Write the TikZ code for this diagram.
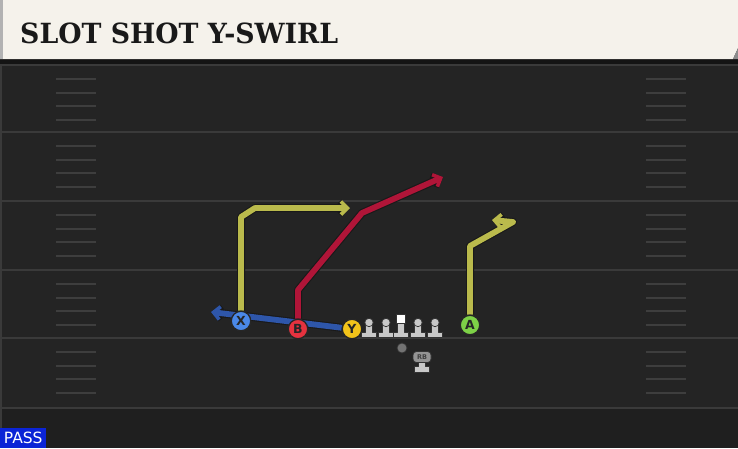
\documentclass[tikz,border=0pt]{standalone}
\usepackage{fontspec}
\usepackage{graphicx}
\setmainfont{DejaVu Sans}
\newfontfamily\titlefont{DejaVu Serif}
\usetikzlibrary{arrows.meta}
\definecolor{turf}{HTML}{242424}
\definecolor{turfdark}{HTML}{1F1F1F}
\definecolor{yardgray}{HTML}{3A3A3A}
\definecolor{hashgray}{HTML}{3E3E3E}
\definecolor{cream}{HTML}{F5F2EB}
\definecolor{routeyellow}{HTML}{BABA4C}
\definecolor{routered}{HTML}{B01538}
\definecolor{routeblue}{HTML}{2E56AA}
\definecolor{xblue}{HTML}{4A88E8}
\definecolor{bred}{HTML}{E5323F}
\definecolor{yyellow}{HTML}{F2C31A}
\definecolor{agreen}{HTML}{7DD147}
\definecolor{olgray}{HTML}{C8C8C8}
\definecolor{passblue}{HTML}{0B24D6}
\pgfdeclarelayer{field}
\pgfdeclarelayer{routes}
\pgfsetlayers{field,routes,main}

\begin{document}
\begin{tikzpicture}[x=1pt,y=-1pt]
		\tikzset{
			player/.style={circle, draw=black!85, line width=1.3pt, minimum size=19.5pt, inner sep=0pt, text=black!85, font=\bfseries\fontsize{12.5}{12.5}\selectfont},
			rb/.style={rounded corners=3.5pt, fill=black!42, draw=black!80, line width=0.7pt, minimum width=18pt, minimum height=11pt, inner sep=0pt, text=black!75, font=\bfseries\fontsize{6.5}{6.5}\selectfont},
			outline/.style={draw=black!90, line width=8pt, line join=round},
			route/.style={line width=5.8pt, line join=round},
			tip/.style={-{Straight Barb[length=6.5pt,width=13pt,line width=#1]}},
			yardline/.style={draw=yardgray, line width=2pt},
			hash/.style={draw=hashgray, line width=1.5pt},
			stand/.pic={\draw[fill=olgray, draw=black!80, line width=0.7pt, line join=round] (-3.5,0) -- (-3.5,9.5) -- (-7.5,9.5) -- (-7.5,15) -- (7.5,15) -- (7.5,9.5) -- (3.5,9.5) -- (3.5,0) -- cycle;},
			lineman/.pic={\pic {stand}; \draw[fill=olgray, draw=black!80, line width=0.7pt] (0,0) circle (4.2);},
			center/.pic={\pic {stand}; \draw[fill=white, draw=black!80, line width=0.7pt] (-4.8,-8.5) rectangle (4.8,1);},
		}
		\useasboundingbox (0,0) rectangle (738,448);
		\def\Route#1#2{
			\begin{pgfonlayer}{routes}
				\draw[outline,tip=5.6pt] #2;
				\draw[route,draw=#1,tip=3.6pt] #2;
			\end{pgfonlayer}}
		
		% Draw the turf, yard lines and hash marks first, on the bottom layer.
		\begin{pgfonlayer}{field}
			\fill[turf] (0,0) rectangle (738,448);
			\fill[turfdark] (0,408) rectangle (738,448);
			\foreach \yl in {65,132,201,270,338,408}
				\draw[yardline] (0,\yl) -- (738,\yl);
			\foreach \yl in {65,132,201,270,338}
				\foreach \dy in {14,28,41,55} {
					\draw[hash] (56,\yl+\dy) -- (96,\yl+\dy);
					\draw[hash] (646,\yl+\dy) -- (686,\yl+\dy);
				}
			\draw[yardgray, line width=1.5pt] (1,59) -- (1,448);
		\end{pgfonlayer}
		
		% Title bar.
		\fill[black!92] (0,59) rectangle (738,64);
		\fill[cream] (0,0) -- (738,0) -- (738,48) -- (733,59) -- (0,59) -- cycle;
		\fill[black!45] (738,48) -- (738,59) -- (733,59) -- cycle;
		\fill[black!30] (0,0) rectangle (3,59);
		\node[anchor=base west, inner sep=0pt, text=black!90] (title) at (20,43) {\resizebox*{318pt}{21pt}{\titlefont\bfseries SLOT SHOT Y-SWIRL}};
		
		% Place the skill players.
		\node[player, fill=xblue] (X) at (241,321) {X};
		\node[player, fill=bred] (B) at (298,329) {B};
		\node[player, fill=yyellow] (Y) at (352,329) {Y};
		\node[player, fill=agreen] (A) at (470,325) {A};
		
		% Line, quarterback and running back.
		\foreach \x/\n in {369/lt,386/lg,418/rg,435/rt}
			\pic (\n) at (\x,322.5) {lineman};
		\pic (c) at (401,322.5) {center};
		\node[circle, fill=black!55, draw=black!80, line width=0.7pt, minimum size=10pt, inner sep=0pt] (QB) at (402,348) {};
		\pic (rbstand) at (422,357) {stand};
		\node[rb] (RB) at (422,357) {RB};
		
		% Routes go on the middle layer, under the players.
		\coordinate (xtip) at (211,312);
		\Route{routeblue}{(Y) -- (xtip)}
		\Route{routeyellow}{(X) -- (241,217) -- (255,208) -- (350,208)}
		\Route{routered}{(B) -- (298,290) -- (362,213) -- (443,177)}
		\Route{routeyellow}{(A) -- (470,246) -- (513,222) -- (492,220)}
		
		\node[fill=passblue, text=white, anchor=south west, inner sep=0pt, minimum width=46pt, minimum height=20pt, font=\fontsize{15.5}{15.5}\selectfont] (pass) at (0,448) {PASS};
	\end{tikzpicture}
\end{document}
